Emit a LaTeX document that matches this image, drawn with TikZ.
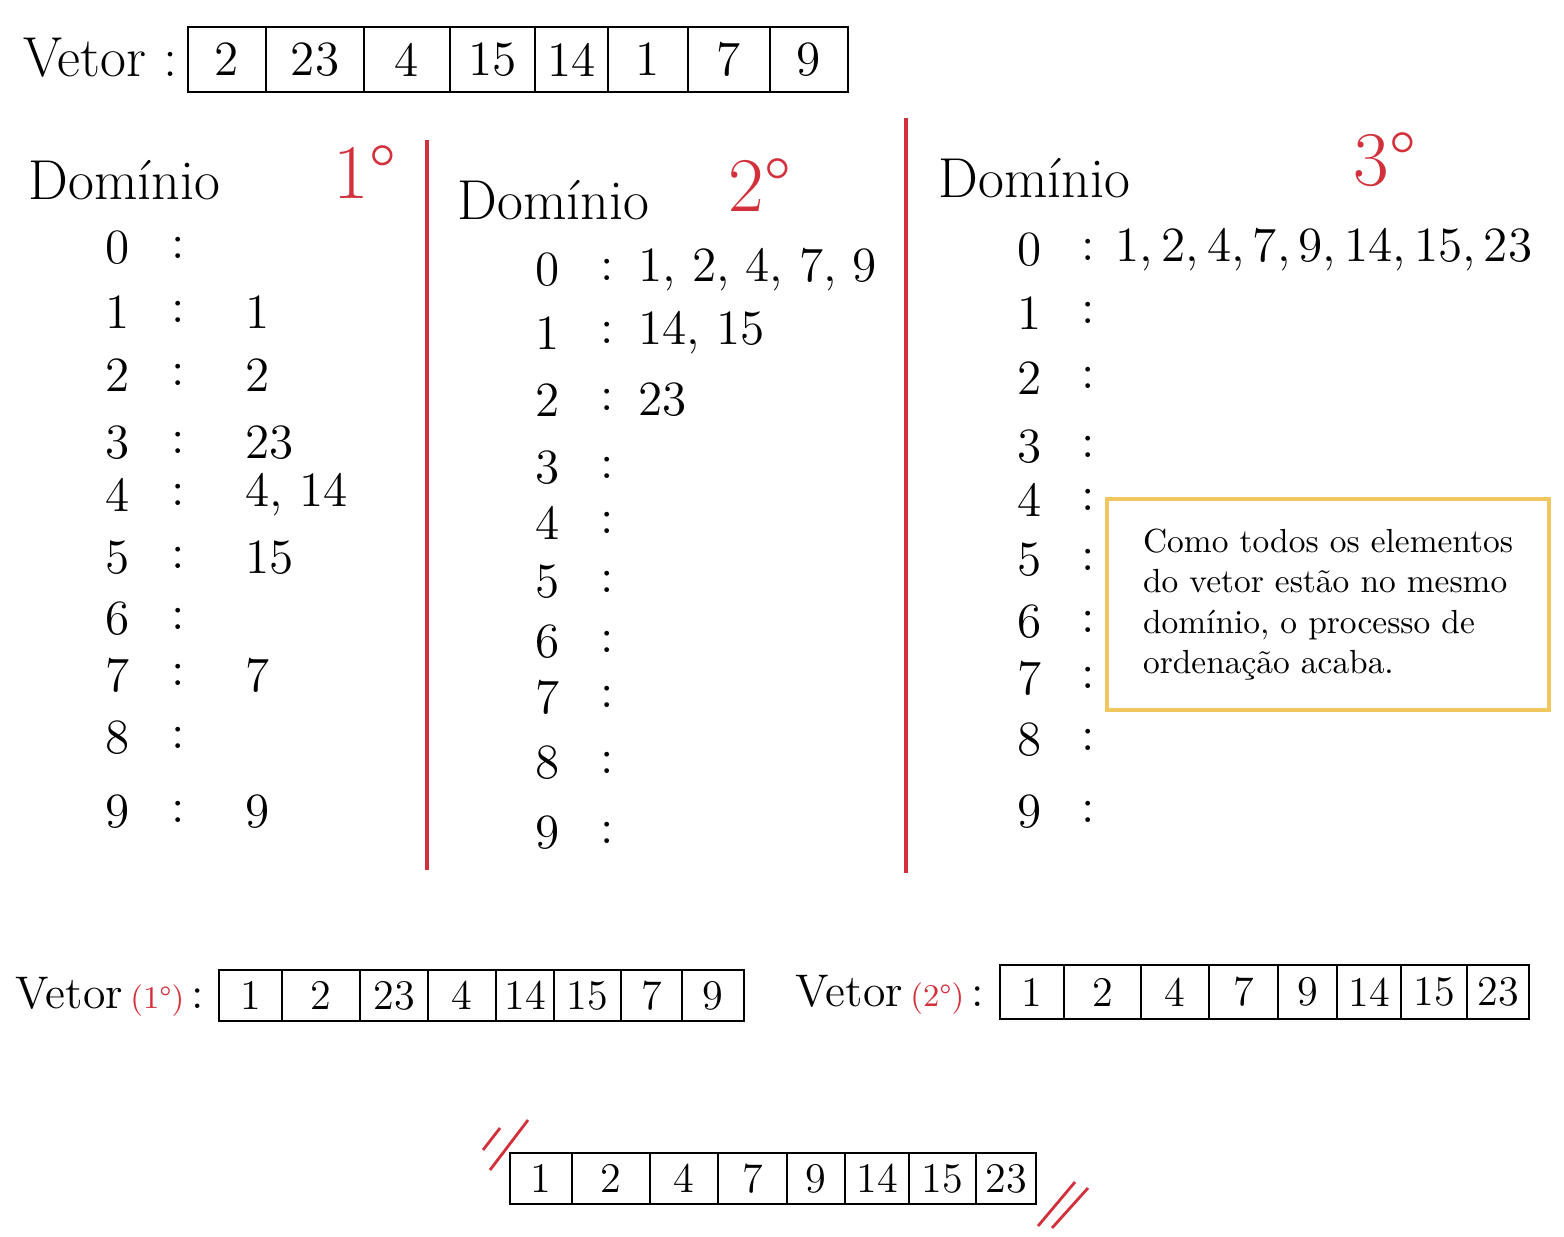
\documentclass[tikz,border=0pt]{standalone}
\usepackage{tikz}
\usetikzlibrary{calc}
\definecolor{markred}{HTML}{D2313C}
\definecolor{notebox}{HTML}{EFC75E}

\begin{document}
\begin{tikzpicture}[x=0.01cm,y=-0.01cm,
  hand/.style={font=\fontsize{14}{16}\selectfont, inner sep=0pt},
  title/.style={font=\fontsize{16}{19}\selectfont, inner sep=0pt},
  small title/.style={font=\fontsize{13}{15}\selectfont, inner sep=0pt},
  ord/.style={font=\fontsize{22}{26}\selectfont, text=markred, inner sep=0pt},
  cell/.style={draw, line width=0.8pt, inner sep=0pt, font=\fontsize{14}{16}\selectfont},
  small cell/.style={cell, font=\fontsize{12}{14}\selectfont},
  sep/.style={draw=markred, line width=1pt},
  slash/.style={draw=markred, line width=0.8pt}]
\useasboundingbox (0,0) rectangle (1564,1236);

% vetor inicial
\node[title, anchor=east] (vetor) at (178,58) {Vetor :};
\foreach \a/\b/\v [count=\i, evaluate=\b as \w using (\b-\a)/100] in {188/266/2, 266/364/23, 364/450/4, 450/535/15, 535/608/14, 608/688/1, 688/770/7, 770/848/9}
  \node[cell, minimum width=\w cm, minimum height=0.65cm] (v0-\i) at ({(\a+\b)/2},59.5) {\v};

% separadores
\draw[sep] (427,140) -- (427,870);
\draw[sep] (906,118) -- (906,873);

% 1o passo
\node[title, anchor=west] (dom1) at (28,180) {Domínio};
\node[ord] (ord1) at (365,172) {1°};
\foreach \r/\y/\v in {0/248/{}, 1/312/1, 2/375/2, 3/443/23, 4/495/{4, 14}, 5/558/15, 6/619/{}, 7/675/7, 8/738/{}, 9/812/9} {
  \node[hand] (a\r) at (118,\y) {\r};
  \node[hand] (a\r-sep) at (178,\y) {:};
  \node[hand, anchor=west] (a\r-val) at (245,\y) {\v};
}

% 2o passo
\node[title, anchor=west] (dom2) at (457,200) {Domínio};
\node[ord] (ord2) at (760,185) {2°};
\foreach \r/\y/\v in {0/270/{1, 2, 4, 7, 9}, 1/333/{14, 15}, 2/400/23, 3/468/{}, 4/523/{}, 5/582/{}, 6/642/{}, 7/697/{}, 8/763/{}, 9/833/{}} {
  \node[hand] (b\r) at (548,\y) {\r};
  \node[hand] (b\r-sep) at (607,\y) {:};
  \node[hand, anchor=west] (b\r-val) at (638,\y) {\v};
}

% 3o passo
\node[title, anchor=west] (dom3) at (938,178) {Domínio};
\node[ord] (ord3) at (1385,160) {3°};
\foreach \r/\y/\v in {0/250/{1,\,2,\,4,\,7,\,9,\,14,\,15,\,23}, 1/313/{}, 2/378/{}, 3/447/{}, 4/500/{}, 5/560/{}, 6/622/{}, 7/678/{}, 8/740/{}, 9/812/{}} {
  \node[hand] (c\r) at (1030,\y) {\r};
  \node[hand] (c\r-sep) at (1088,\y) {:};
  \node[hand, anchor=west] (c\r-val) at (1115,\y) {\v};
}
\node[draw=notebox, line width=1.2pt, minimum width=4.42cm, minimum height=2.11cm, align=left,
  font=\fontsize{9.5}{11.5}\selectfont] (nota) at (1328,604.5)
  {Como todos os elementos\\ do vetor estão no mesmo\\ domínio, o processo de\\ ordenação acaba.};

% vetor apos o 1o passo
\node[small title, anchor=east] (vetor1) at (205,997) {Vetor\,{\color{markred}\fontsize{9}{11}\selectfont(1°)}\,:};
\foreach \a/\b/\v [count=\i, evaluate=\b as \w using (\b-\a)/100] in {219/282/1, 282/360/2, 360/428/23, 428/496/4, 496/554/14, 554/621/15, 621/682/7, 682/744/9}
  \node[small cell, minimum width=\w cm, minimum height=0.51cm] (v1-\i) at ({(\a+\b)/2},995.5) {\v};

% vetor apos o 2o passo
\node[small title, anchor=east] (vetor2) at (985,995) {Vetor\,{\color{markred}\fontsize{9}{11}\selectfont(2°)}\,:};
\foreach \a/\b/\v [count=\i, evaluate=\b as \w using (\b-\a)/100] in {1000/1064/1, 1064/1141/2, 1141/1209/4, 1209/1278/7, 1278/1337/9, 1337/1401/14, 1401/1467/15, 1467/1529/23}
  \node[small cell, minimum width=\w cm, minimum height=0.54cm] (v2-\i) at ({(\a+\b)/2},992) {\v};

% vetor ordenado
\foreach \a/\b/\v [count=\i, evaluate=\b as \w using (\b-\a)/100] in {510/572/1, 572/650/2, 650/718/4, 718/787/7, 787/845/9, 845/909/14, 909/976/15, 976/1036/23}
  \node[small cell, minimum width=\w cm, minimum height=0.51cm] (v3-\i) at ({(\a+\b)/2},1178.5) {\v};
\draw[slash] (483,1150) -- (500,1128);
\draw[slash] (490,1170) -- (528,1120);
\draw[slash] (1038,1226) -- (1075,1182);
\draw[slash] (1052,1228) -- (1088,1188);
\end{tikzpicture}
\end{document}
